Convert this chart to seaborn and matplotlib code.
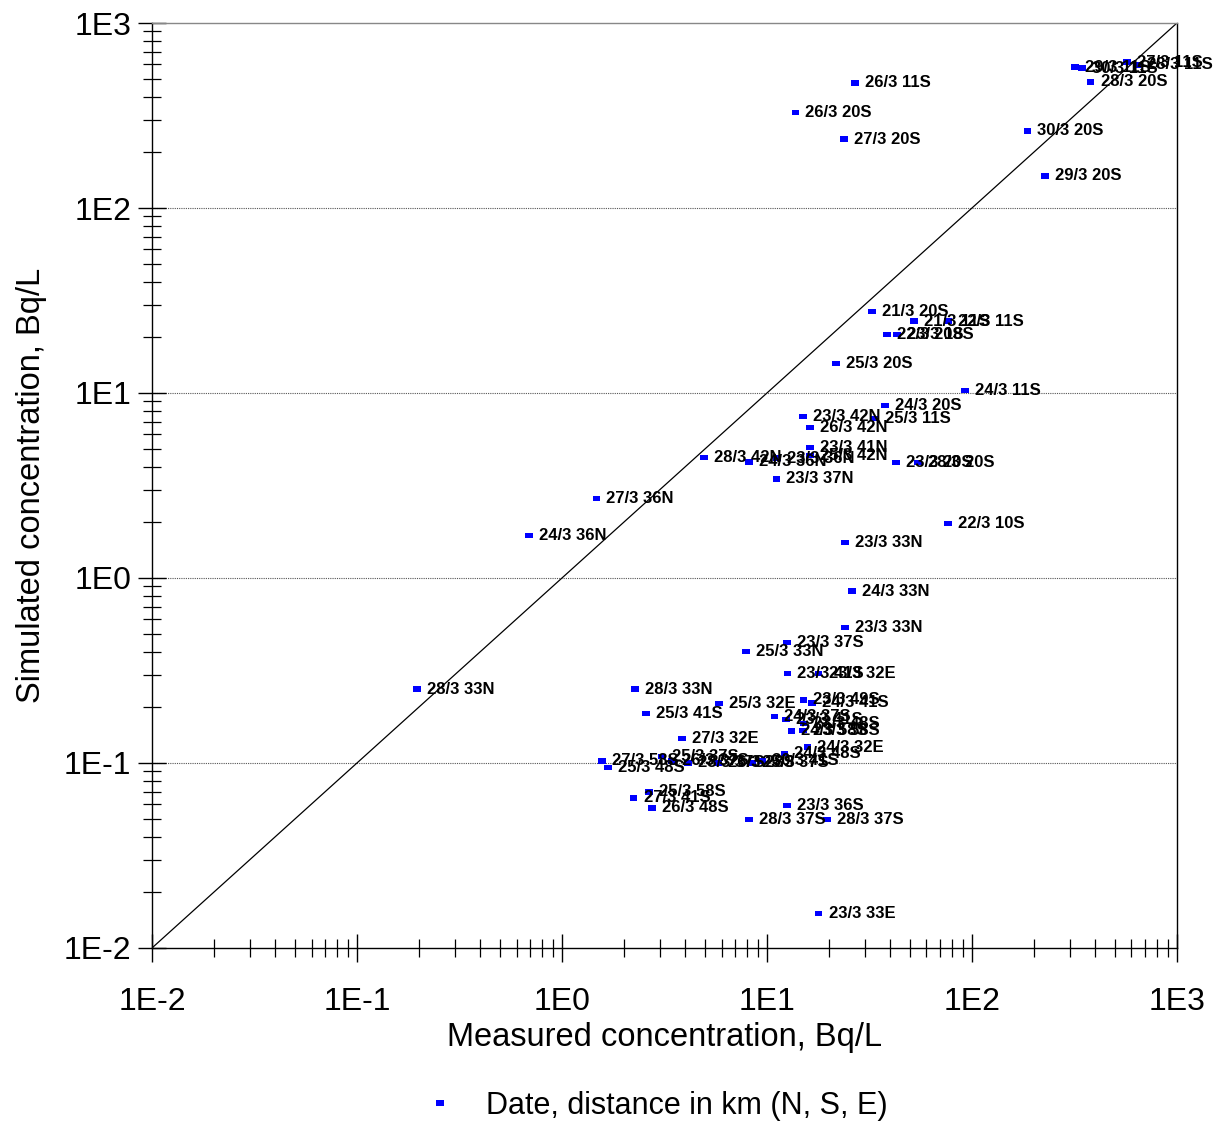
import numpy as np
import pandas as pd
import matplotlib
matplotlib.use("Agg")
import matplotlib.pyplot as plt
import seaborn as sns
from matplotlib.lines import Line2D
from matplotlib.ticker import LogLocator, FuncFormatter

# Point labels (date, distance in km and direction)
labels = [
    "29/3 11S", "30/3 11S", "27/3 11S", "28/3 11S", "28/3 20S",
    "26/3 11S", "26/3 20S", "27/3 20S", "30/3 20S", "29/3 20S",
    "21/3 20S", "21/3 11S", "22/3 11S", "22/3 20S", "23/3 18S",
    "25/3 20S", "24/3 11S", "24/3 20S", "23/3 42N", "25/3 11S",
    "26/3 42N", "23/3 41N", "28/3 42N", "24/3 36N", "23/3 36N",
    "25/3 42N", "23/3 37N", "23/3 20S", "28/3 20S", "22/3 10S",
    "27/3 36N", "24/3 36N", "23/3 33N", "24/3 33N", "23/3 33N",
    "28/3 33N", "23/3 37S", "25/3 33N", "23/3 41S", "23/3 32E",
    "28/3 33N", "25/3 41S", "25/3 32E", "23/3 49S", "24/3 41S",
    "24/3 37S", "23/3 41S", "23/3 48S", "24/3 58S", "23/3 58S",
    "27/3 32E", "24/3 32E", "24/3 48S", "27/3 58S", "25/3 48S",
    "25/3 37S", "26/3 37S", "28/3 37S", "26/3 28S", "25/3 37S",
    "30/3 41S", "25/3 58S", "27/3 41S", "26/3 48S", "23/3 36S",
    "28/3 37S", "28/3 37S", "23/3 33E",
]

# Measured concentration, Bq/L
measured = [
    318, 344, 570, 638, 380,
    26.9, 13.8, 23.8, 187, 227,
    32.5, 52.1, 76.4, 38.5, 43.1,
    21.7, 92.5, 37.7, 15.0, 33.6,
    16.2, 16.2, 4.93, 8.17, 11.2,
    16.2, 11.1, 42.6, 54.6, 76.4,
    1.47, 0.69, 24.0, 26.0, 24.0,
    0.196, 12.5, 7.9, 12.6, 17.9,
    2.27, 2.57, 5.83, 15.1, 16.6,
    10.9, 12.4, 15.1, 13.2, 15.0,
    3.85, 15.8, 12.2, 1.57, 1.68,
    3.07, 3.44, 4.12, 5.77, 8.45,
    9.46, 2.66, 2.24, 2.75, 12.5,
    8.17, 19.6, 17.9,
]

# Simulated concentration, Bq/L
simulated = [
    578, 571, 615, 593, 480,
    474, 330, 236, 261, 149,
    27.7, 24.5, 24.5, 20.8, 20.8,
    14.5, 10.3, 8.6, 7.5, 7.3,
    6.5, 5.05, 4.5, 4.24, 4.45,
    4.6, 3.43, 4.19, 4.19, 1.98,
    2.70, 1.69, 1.55, 0.85, 0.54,
    0.251, 0.45, 0.40, 0.303, 0.303,
    0.251, 0.186, 0.209, 0.219, 0.211,
    0.179, 0.171, 0.164, 0.149, 0.150,
    0.135, 0.122, 0.113, 0.1025, 0.095,
    0.108, 0.1025, 0.100, 0.100, 0.100,
    0.1025, 0.0697, 0.0647, 0.0571, 0.0586,
    0.0497, 0.0497, 0.0153,
]

df = pd.DataFrame({"Measured": measured, "Simulated": simulated, "Label": labels})

sns.set_style("white")
plt.rcParams["font.family"] = ["Liberation Sans", "DejaVu Sans"]
plt.rcParams["text.color"] = "black"
plt.rcParams["axes.labelcolor"] = "black"
plt.rcParams["xtick.color"] = "black"
plt.rcParams["ytick.color"] = "black"

# flat rectangle marker
rect = [(-1, -0.7), (1, -0.7), (1, 0.7), (-1, 0.7), (-1, -0.7)]

fig, ax = plt.subplots(figsize=(12.17, 11.28), dpi=100)
fig.subplots_adjust(left=0.1249, right=0.9671, top=0.9796, bottom=0.1596)

ax.set_xscale("log")
ax.set_yscale("log")
ax.set_xlim(1e-2, 1e3)
ax.set_ylim(1e-2, 1e3)

# 1:1 line
ax.plot([1e-2, 1e3], [1e-2, 1e3], color="black", lw=0.9, zorder=1)

# horizontal dotted grid at decades
for v in [1e-1, 1e0, 1e1, 1e2]:
    ax.axhline(v, color="#555555", lw=0.8, ls=(0, (1, 1)), zorder=0)

sns.scatterplot(data=df, x="Measured", y="Simulated", marker=rect, s=28,
                color="#0000ff", edgecolor="none", ax=ax, zorder=3, legend=False)

for m, s, t in zip(measured, simulated, labels):
    ax.annotate(t, (m, s), xytext=(7, 0), textcoords="offset points",
                ha="left", va="center", fontsize=12, fontweight="bold",
                color="black", zorder=4)

fmt = FuncFormatter(lambda v, p: "1E%d" % int(round(np.log10(v))))
for axis in (ax.xaxis, ax.yaxis):
    axis.set_major_locator(LogLocator(base=10, numticks=10))
    axis.set_minor_locator(LogLocator(base=10, subs=np.arange(2, 10), numticks=20))
    axis.set_major_formatter(fmt)
    axis.set_minor_formatter(plt.NullFormatter())

ax.tick_params(which="major", direction="inout", length=20, width=1.0,
               labelsize=23, left=True, bottom=True, color="black")
ax.tick_params(axis="x", which="major", pad=18)
ax.tick_params(axis="y", which="major", pad=5)
ax.tick_params(which="minor", direction="inout", length=13, width=0.9,
               left=True, bottom=True, color="black")

for sp in ax.spines.values():
    sp.set_color("black")
    sp.set_linewidth(1.0)
ax.spines["top"].set_color("#888888")

ax.set_xlabel("Measured concentration, Bq/L", fontsize=23.5, labelpad=4)
ax.set_ylabel("Simulated concentration, Bq/L", fontsize=23.5, labelpad=12)

handle = Line2D([], [], ls="none", marker=rect, markersize=6, color="#0000ff",
                markeredgewidth=0)
fig.legend([handle], ["Date, distance in km (N, S, E)"], loc="center",
           bbox_to_anchor=(0.533, 0.0195), frameon=False, fontsize=22,
           handletextpad=0.5)

plt.savefig("out.png", dpi=100)
